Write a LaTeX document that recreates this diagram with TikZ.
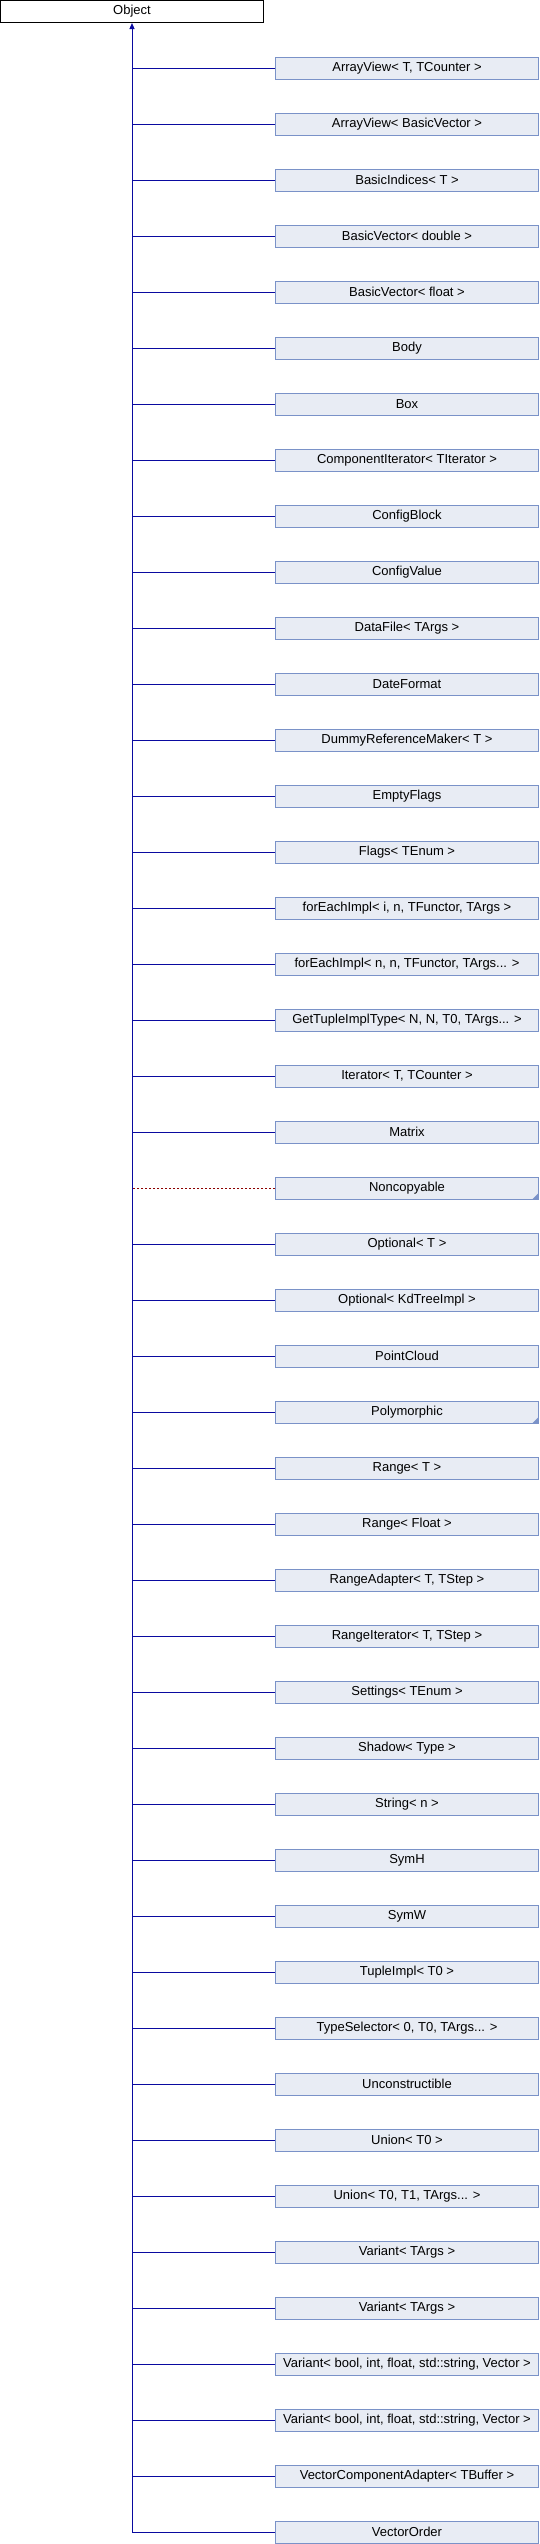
\documentclass[tikz,border=0pt]{standalone}
\usepackage{fontspec}
\setmainfont{Liberation Sans}
\usetikzlibrary{arrows.meta,positioning,calc}
\definecolor{boxfill}{RGB}{232,236,244}
\definecolor{boxdraw}{RGB}{122,146,200}
\definecolor{pubblue}{RGB}{10,10,160}
\definecolor{privred}{RGB}{139,0,0}
\newcommand\tdots{...}

\tikzset{
  base/.style={draw=black, fill=white, line width=1pt, minimum width=263pt,
    minimum height=22pt, inner sep=0pt, font=\fontsize{13}{15}\selectfont},
  cls/.style={base, draw=boxdraw, fill=boxfill},
  pubedge/.style={draw=pubblue, line width=1pt},
  privedge/.style={draw=privred, line width=1pt, dash pattern=on 2pt off 2pt}
}

\begin{document}
\begin{tikzpicture}[x=1pt, y=-1pt]
    \useasboundingbox (0,0) rectangle (540,2544);

    % Base class
    \node[base] (obj) at (132,11.5) {Object};

    % Derived classes
    \foreach \name [count=\i] in {
        {ArrayView< T, TCounter >}, ArrayView< BasicVector >, BasicIndices< T >,
        BasicVector< double >, BasicVector< float >, Body, Box,
        ComponentIterator< TIterator >, ConfigBlock, ConfigValue,
        DataFile< TArgs >, DateFormat, DummyReferenceMaker< T >, EmptyFlags,
        Flags< TEnum >, {forEachImpl< i, n, TFunctor, TArgs >},
        {forEachImpl< n, n, TFunctor, TArgs\tdots{} >},
        {GetTupleImplType< N, N, T0, TArgs\tdots{} >}, {Iterator< T, TCounter >},
        Matrix, Noncopyable, Optional< T >, Optional< KdTreeImpl >, PointCloud,
        Polymorphic, Range< T >, Range< Float >, {RangeAdapter< T, TStep >},
        {RangeIterator< T, TStep >}, Settings< TEnum >, Shadow< Type >,
        String< n >, SymH, SymW, TupleImpl< T0 >,
        {TypeSelector< 0, T0, TArgs\tdots{} >}, Unconstructible, Union< T0 >,
        {Union< T0, T1, TArgs\tdots{} >}, Variant< TArgs >, Variant< TArgs >,
        {Variant< bool, int, float, std::string, Vector >},
        {Variant< bool, int, float, std::string, Vector >},
        VectorComponentAdapter< TBuffer >, VectorOrder} {
        \node[cls] (cls\i) at (407,68+56*\i-56) {\name};
        \ifnum\i=21
            \draw[privedge] (cls\i.west) -- (obj.south |- cls\i.west);
        \else
            \draw[pubedge] (cls\i.west) -- (obj.south |- cls\i.west);
        \fi
    }

    % Trunk with inheritance arrow
    \draw[pubedge, -{Triangle[width=5pt,length=6pt]}]
        (obj.south |- cls45.west) -- (obj.south);

    % Markers for hidden subclasses
    \foreach \k in {21,25} {
        \fill[boxdraw] ($(cls\k.south east)+(-0.5,-0.5)$) -- ++(-6,0) -- ++(6,-6) -- cycle;
    }
\end{tikzpicture}
\end{document}
